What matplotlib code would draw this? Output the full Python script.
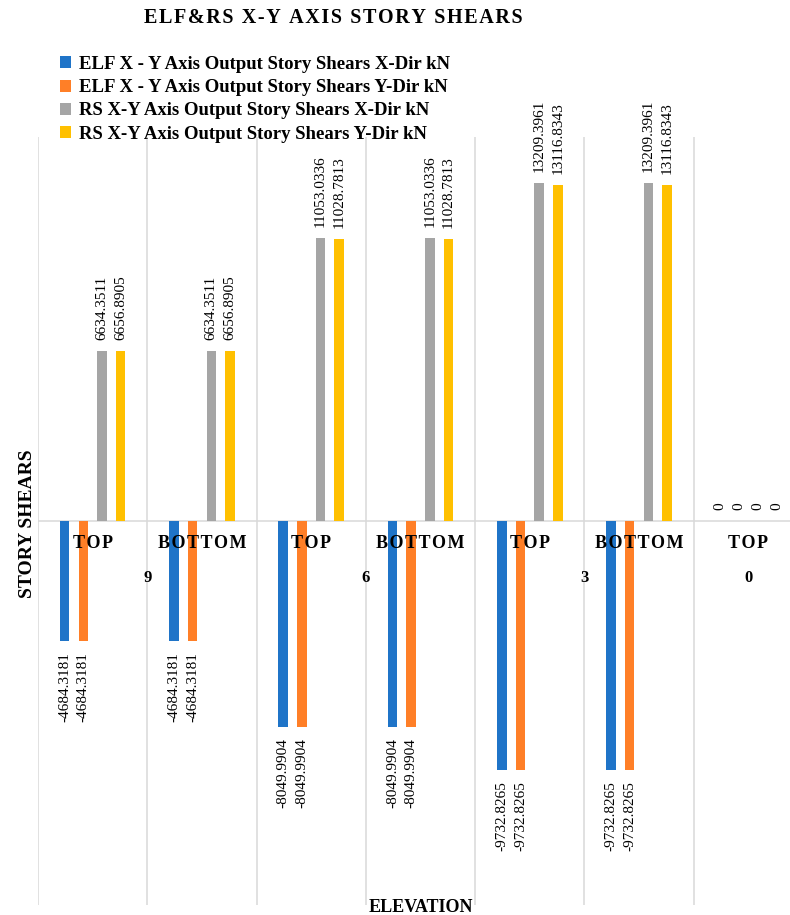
import matplotlib
matplotlib.use("Agg")
import matplotlib.pyplot as plt
from matplotlib.patches import Patch

plt.rcParams['font.family'] = ['Liberation Serif', 'DejaVu Serif']

TITLE = "ELF&RS X-Y AXIS STORY SHEARS"

# chart data
categories = ["TOP", "BOTTOM", "TOP", "BOTTOM", "TOP", "BOTTOM", "TOP"]
elevations = ["9", "6", "3", "0"]
group_sizes = [2, 2, 2, 1]

series_names = [
    "ELF X - Y Axis Output Story Shears X-Dir kN",
    "ELF X - Y Axis Output Story Shears Y-Dir kN",
    "RS X-Y Axis Output Story Shears X-Dir kN",
    "RS X-Y Axis Output Story Shears Y-Dir kN",
]
elf_x = [-4684.3181, -4684.3181, -8049.9904, -8049.9904, -9732.8265, -9732.8265, 0]
elf_y = [-4684.3181, -4684.3181, -8049.9904, -8049.9904, -9732.8265, -9732.8265, 0]
rs_x = [6634.3511, 6634.3511, 11053.0336, 11053.0336, 13209.3961, 13209.3961, 0]
rs_y = [6656.8905, 6656.8905, 11028.7813, 11028.7813, 13116.8343, 13116.8343, 0]

colors = ["#1F74C8", "#FF7F27", "#A5A5A5", "#FFC000"]
GRID = "#D9D9D9"


def spaced(s):
    # loose letter spacing like the original title
    return "\u200a".join(s)


def fmt(v):
    return "0" if v == 0 else f"{v:.4f}"


fig = plt.figure(figsize=(7.9, 9.15), dpi=100)
ax = fig.add_axes([38 / 790, (915 - 905) / 915, 765 / 790, (905 - 137) / 915])

slot = 0.171
bar_w = 0.087
for k, vals in enumerate([elf_x, elf_y, rs_x, rs_y]):
    off = (k - 1.5) * slot
    xs = [i + off for i in range(len(categories))]
    ax.bar(xs, vals, width=bar_w, color=colors[k], zorder=3)
    for x, v in zip(xs, vals):
        if v >= 0:
            ax.annotate(fmt(v), (x, v), xytext=(0, 11), textcoords="offset pixels",
                        rotation=90, ha="center", va="bottom", fontsize=11,
                        annotation_clip=False)
        else:
            ax.annotate(fmt(v), (x, v), xytext=(0, -11), textcoords="offset pixels",
                        rotation=90, ha="center", va="top", fontsize=11,
                        annotation_clip=False)

ax.set_xlim(-0.5, len(categories) - 0.5)
ax.set_ylim(-15000, 15000)

# category dividers + zero axis
for b in range(len(categories) + 1):
    ax.axvline(b - 0.5, color=GRID, lw=1.1, zorder=1)
ax.axhline(0, color=GRID, lw=1.1, zorder=2)

ax.set_xticks([])
ax.set_yticks([])
for sp in ax.spines.values():
    sp.set_visible(False)

# multi-level category labels
for i, c in enumerate(categories):
    ax.annotate(spaced(c), (i, 0), xytext=(0, -22), textcoords="offset pixels",
                ha="center", va="center", fontsize=13, fontweight="bold")
start = 0
for e, n in zip(elevations, group_sizes):
    center = start + (n - 1) / 2
    ax.annotate(e, (center, 0), xytext=(0, -57), textcoords="offset pixels",
                ha="center", va="center", fontsize=12, fontweight="bold")
    start += n

handles = [Patch(facecolor=c, label=l) for c, l in zip(colors, series_names)]
fig.legend(handles=handles, loc="upper left", bbox_to_anchor=(60 / 790, 1 - 56 / 915),
           frameon=False, handlelength=0.6, handleheight=0.6,
           handletextpad=0.4, labelspacing=0.33, borderpad=0, borderaxespad=0,
           prop={"size": 13.5, "weight": "bold"})

fig.text(333 / 790, 1 - 18 / 915, spaced(TITLE), ha="center", va="center",
         fontsize=14.5, fontweight="bold")
fig.text(28 / 790, 1 - 524 / 915, "STORY SHEARS", rotation=90, ha="center",
         va="center", fontsize=14, fontweight="bold")
fig.text(421 / 790, 1 - 908 / 915, "ELEVATION", ha="center", va="center",
         fontsize=13, fontweight="bold")

fig.savefig("out.png", dpi=100)
